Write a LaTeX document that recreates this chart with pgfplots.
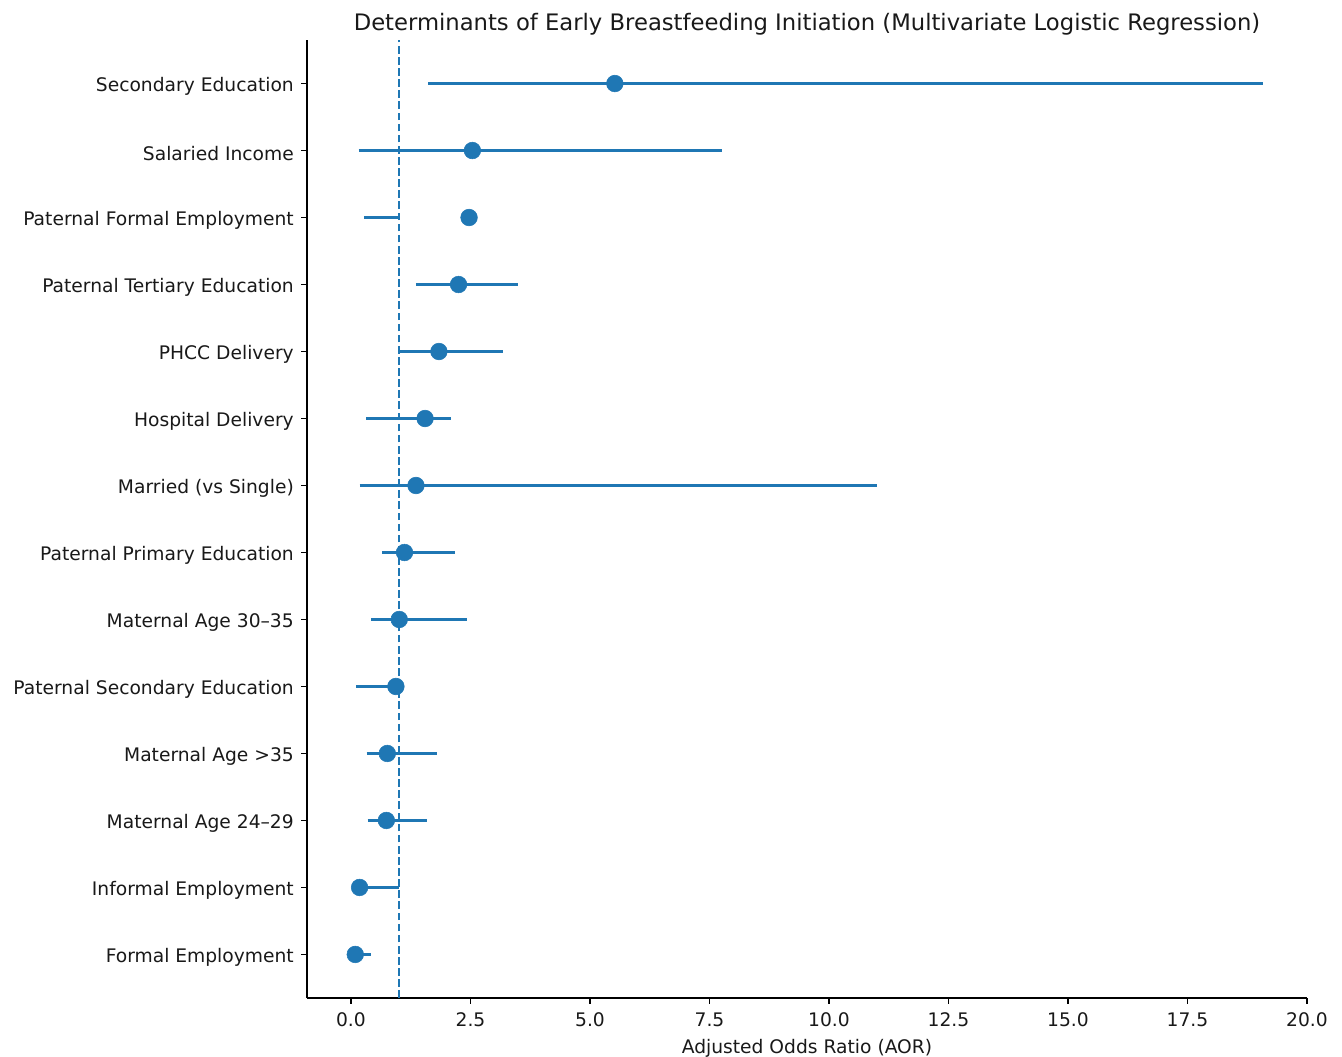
\documentclass[border=0pt]{standalone}
\usepackage{fontspec}
\setmainfont{DejaVu Sans}
\usepackage{pgfplots}
\usepackage{pgfplotstable}
\pgfplotsset{compat=1.18}
\definecolor{mplblue}{HTML}{1F77B4}
\pgfplotstableread{
y est lo hi
13 5.52 1.62 19.07
12 2.54 0.16 7.76
11 2.47 0.28 1.00
10 2.25 1.36 3.50
9 1.84 1.01 3.19
8 1.55 0.32 2.09
7 1.36 0.18 11.00
6 1.12 0.65 2.18
5 1.01 0.42 2.42
4 0.94 0.11 0.97
3 0.76 0.33 1.80
2 0.74 0.35 1.59
1 0.18 0.10 1.00
0 0.09 0.05 0.42
}\datatable
\begin{document}
\begin{tikzpicture}
\useasboundingbox (-221.04bp,-42.48bp) rectangle (745.2bp,718.56bp);
\begin{axis}[
  at={(0,0)}, anchor=south west,
  scale only axis,
  width=720bp, height=689.76bp,
  xmin=-0.92, xmax=20.0,
  ymin=-0.65, ymax=13.65,
  axis x line*=bottom, axis y line*=left,
  axis line style={line width=1bp, black},
  tick align=outside,
  major tick length=4bp,
  every tick/.style={black, line width=0.8bp},
  xtick={0,2.5,...,20},
  ytick={0,...,13},
  yticklabels={Formal Employment, Informal Employment, Maternal Age 24–29, Maternal Age >35, Paternal Secondary Education, Maternal Age 30–35, Paternal Primary Education, Married (vs Single), Hospital Delivery, PHCC Delivery, Paternal Tertiary Education, Paternal Formal Employment, Salaried Income, Secondary Education},
  ticklabel style={font=\fontsize{13.5}{16}\selectfont, color=black!90},
  yticklabel style={xshift=-2bp, yshift=-2bp},
  xticklabel style={yshift=-3bp, /pgf/number format/.cd, fixed, fixed zerofill, precision=1, assume math mode=true},
  xlabel={Adjusted Odds Ratio (AOR)},
  xlabel style={font=\fontsize{13.5}{16}\selectfont, color=black!90, yshift=-2.5bp},
  title={Determinants of Early Breastfeeding Initiation (Multivariate Logistic Regression)},
  title style={font=\fontsize{16.4}{19}\selectfont, color=black!90, yshift=-6bp},
  clip=false,
]
\addplot[draw=none, mark=none, forget plot,
  error bars/.cd, x dir=both, x explicit, error mark=none,
  error bar style={mplblue, line width=2.2bp}]
  table[x=lo, y=y, x error plus expr=\thisrow{hi}-\thisrow{lo}, x error minus expr=0] {\datatable};
\addplot[only marks, mark=*, mark size=6bp, mark options={draw=mplblue, fill=mplblue}] table[x=est, y=y] {\datatable};
\addplot[mplblue, line width=1.2bp, dash pattern=on 5.5bp off 2.5bp] coordinates {(1,-0.65) (1,13.65)};
\end{axis}
\end{tikzpicture}
\end{document}
